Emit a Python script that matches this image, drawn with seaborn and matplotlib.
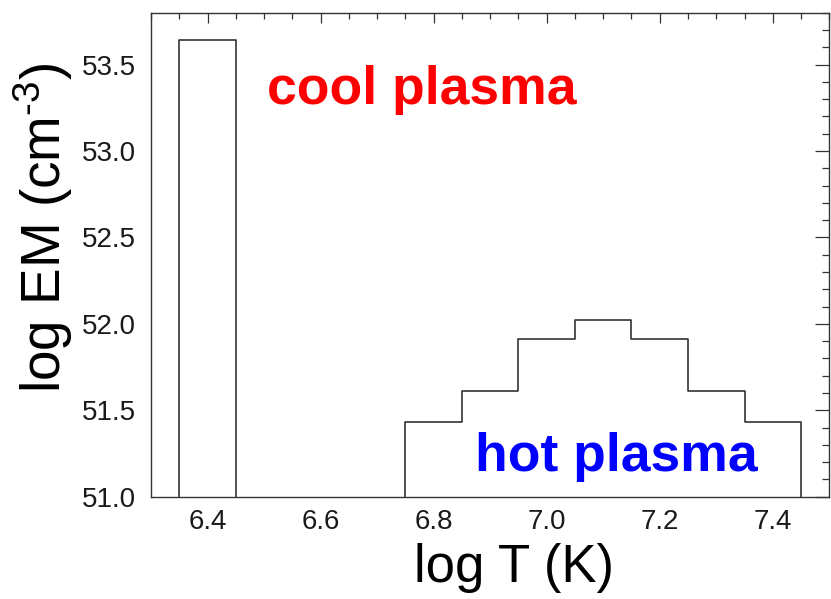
import numpy as np
import pandas as pd
import matplotlib
matplotlib.use('Agg')
import matplotlib.pyplot as plt
from matplotlib.ticker import MultipleLocator, FormatStrFormatter
import seaborn as sns

# temperature bins (bin centres) and emission measure
log_t = [6.4, 6.8, 6.9, 7.0, 7.1, 7.2, 7.3, 7.4]
log_em = [53.64, 51.43, 51.61, 51.91, 52.02, 51.91, 51.61, 51.43]

df = pd.DataFrame({'log_t': log_t, 'log_em': log_em})

sns.set_style('white')
plt.rcParams['font.family'] = ['Liberation Sans', 'DejaVu Sans']
plt.rcParams['mathtext.fontset'] = 'custom'
plt.rcParams['mathtext.rm'] = 'Liberation Sans'
plt.rcParams['mathtext.default'] = 'regular'

LINE = '#333333'

fig = plt.figure(figsize=(8.31, 5.99), dpi=100)
ax = fig.add_axes([0.1817, 0.1708, 0.8163, 0.808])

sns.histplot(data=df, x='log_t', weights='log_em', binwidth=0.1,
             binrange=(6.35, 7.45), element='step', fill=True,
             color='white', edgecolor=LINE, linewidth=1.2, alpha=1,
             ax=ax)

ax.set_xlim(6.3, 7.5)
ax.set_ylim(51.0, 53.8)

ax.xaxis.set_major_locator(MultipleLocator(0.2))
ax.xaxis.set_minor_locator(MultipleLocator(0.05))
ax.yaxis.set_major_locator(MultipleLocator(0.5))
ax.yaxis.set_minor_locator(MultipleLocator(0.1))
ax.xaxis.set_major_formatter(FormatStrFormatter('%.1f'))
ax.yaxis.set_major_formatter(FormatStrFormatter('%.1f'))

ax.tick_params(axis='both', which='both', direction='in', top=True, right=True,
               color=LINE, width=0.9, labelcolor='#1a1a1a', labelsize=20)
ax.tick_params(axis='x', which='major', length=7.5, pad=9)
ax.tick_params(axis='x', which='minor', length=4)
ax.tick_params(axis='y', which='major', length=10, pad=11)
ax.tick_params(axis='y', which='minor', length=5)

for s in ax.spines.values():
    s.set_color(LINE)
    s.set_linewidth(1.0)
    s.set_visible(True)

ax.set_xlabel('log T (K)', fontsize=38, color='black')
ax.set_ylabel(r'log EM (cm$^{\text{-3}}$)', fontsize=39.5, color='black')
ax.xaxis.set_label_coords(0.535, -0.095)
ax.yaxis.set_label_coords(-0.112, 0.555)

ax.text(6.505, 53.27, 'cool plasma', color='#ff0000', fontsize=38.5,
        fontweight='bold', va='baseline', ha='left')
ax.text(6.873, 51.15, 'hot plasma', color='#0000ff', fontsize=38.5,
        fontweight='bold', va='baseline', ha='left')

fig.savefig('out.png', dpi=100)
